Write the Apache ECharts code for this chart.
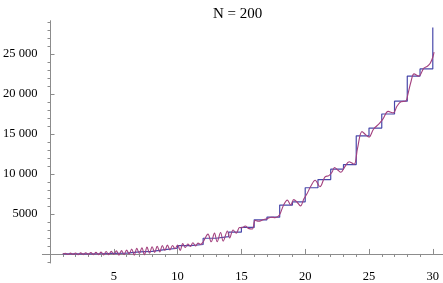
<!DOCTYPE html>
<html>
<head>
<meta charset="utf-8">
<script src="https://cdn.jsdelivr.net/npm/echarts@6/dist/echarts.min.js"></script>
<style>
  html, body { margin: 0; padding: 0; background: #fff; }
  #chart { width: 443px; height: 283px; }
</style>
</head>
<body>
<div id="chart"></div>
<script>
// step function: running totals at n = 1..30
var stepX = [1, 2, 3, 4, 5, 6, 7, 8, 9, 10, 11, 12, 13, 14, 15, 16, 17, 18, 19, 20, 21, 22, 23, 24, 25, 26, 27, 28, 29, 30];
var stepTotals = [1, 10, 26, 75, 111, 255, 319, 544, 713, 1037, 1181, 1965, 2161, 2737, 3313, 4274, 4598, 6119, 6519, 8283, 9307, 10603, 11179, 14779, 15740, 17504, 19104, 22240, 23140, 28324];

// wavy approximation
var curveX = [1, 1.2, 1.4, 1.6, 1.8, 2, 2.2, 2.4, 2.6, 2.8, 3, 3.2, 3.4, 3.6, 3.8, 4, 4.2, 4.4, 4.6, 4.8,
  5, 5.2, 5.4, 5.6, 5.8, 6, 6.2, 6.4, 6.6, 6.8, 7, 7.2, 7.4, 7.6, 7.8, 8, 8.2, 8.4, 8.6, 8.8,
  9, 9.2, 9.4, 9.6, 9.8, 10, 10.2, 10.4, 10.6, 10.8, 11, 11.2, 11.4, 11.6, 11.8,
  12, 12.38, 12.63, 12.89, 13.1, 13.37, 13.57, 13.9, 14.08, 14.35, 14.6, 14.85,
  15.05, 15.3, 15.55, 15.86, 16.07, 16.35, 16.7, 17, 17.34, 17.65, 17.98, 18.3, 18.6, 18.87, 19.1, 19.35,
  19.63, 19.9, 20.14, 20.45, 20.78, 21.16, 21.54, 21.85, 22.1, 22.3, 22.55, 22.8, 23.1, 23.45, 23.83,
  24.1, 24.45, 24.75, 25, 25.35, 25.8, 26.1, 26.5, 26.9, 27.2, 27.5, 27.9, 28.03, 28.3, 28.53, 28.9,
  29.3, 29.6, 29.8, 30, 30.1];
var curveY = [0, 80, -70, 100, -60, 120, -90, 140, -80, 150, -60, 180, -100, 200, -80, 230, -120, 300, -100, 320,
  -60, 380, -140, 420, -80, 480, 0, 620, -150, 700, 50, 780, -100, 850, 80, 900, 200, 950, 250, 1050,
  450, 1100, 500, 1050, 650, 1100, 450, 1300, 800, 1250, 950, 1400, 1000, 1350, 1200,
  1500, 2480, 1520, 2600, 1520, 2680, 1600, 2880, 2000, 3000, 2600, 3300,
  3280, 3500, 3200, 3130, 4200, 4100, 4280, 4400, 4600, 4550, 4880, 6100, 6730, 6130, 6800, 6500,
  6010, 6900, 7530, 8500, 9210, 8420, 9620, 9800, 10220, 10820, 10500, 10220, 10900, 11540, 11220,
  13200, 15300, 14900, 14620, 15600, 16300, 16900, 17830, 17640, 18500, 19030, 19150, 19840, 21600, 22520, 22240,
  23240, 23500, 23850, 24600, 25250];

var xMajorTicks = [5, 10, 15, 20, 25, 30];
var xTickLabels = ['5', '10', '15', '20', '25', '30'];
var xMinorTicks = [1, 2, 3, 4, 6, 7, 8, 9, 11, 12, 13, 14, 16, 17, 18, 19, 21, 22, 23, 24, 26, 27, 28, 29];
var yMajorTicks = [5000, 10000, 15000, 20000, 25000];
var yTickLabels = ['5000', '10 000', '15 000', '20 000', '25 000'];
var yMinorTicks = [-1000, 1000, 2000, 3000, 4000, 6000, 7000, 8000, 9000, 11000, 12000, 13000, 14000,
  16000, 17000, 18000, 19000, 21000, 22000, 23000, 24000, 26000, 27000, 28000, 29000];

var stepData = stepX.map(function (x, i) { return [x, stepTotals[i]]; });
var curveData = curveX.map(function (x, i) { return [x, curveY[i]]; });

var axisGrey = '#8c8c8c';
var fontFam = '"Liberation Serif", "DejaVu Serif", serif';
var xMin = -0.6, xMax = 30.8, yMin = -1130, yMax = 29170;

var chart = echarts.init(document.getElementById('chart'));
chart.setOption({
  animation: false,
  backgroundColor: '#fff',
  title: {
    text: 'N = 200',
    left: 208,
    top: 2,
    textStyle: { fontFamily: fontFam, fontSize: 15, fontWeight: 'normal', color: '#000' }
  },
  grid: { left: 31.7, right: 0, top: 20.7, bottom: 10.3 },
  xAxis: [{
    type: 'value', min: xMin, max: xMax,
    axisLine: { onZero: true, onZeroAxisIndex: 0, lineStyle: { color: axisGrey, width: 1 } },
    axisTick: { inside: true, length: 5, customValues: xMajorTicks, lineStyle: { color: axisGrey } },
    axisLabel: {
      customValues: xMajorTicks, margin: 7, color: '#000', fontFamily: fontFam, fontSize: 12.5,
      formatter: function (v) { return xTickLabels[xMajorTicks.indexOf(v)]; }
    },
    splitLine: { show: false }
  }, {
    type: 'value', min: xMin, max: xMax,
    axisLine: { show: false, onZero: true, onZeroAxisIndex: 0 },
    axisTick: { inside: true, length: 3, customValues: xMinorTicks, lineStyle: { color: axisGrey } },
    axisLabel: { show: false },
    splitLine: { show: false }
  }],
  yAxis: [{
    type: 'value', min: yMin, max: yMax,
    axisLine: { onZero: true, onZeroAxisIndex: 0, lineStyle: { color: axisGrey, width: 1 } },
    axisTick: { inside: true, length: 4.5, customValues: yMajorTicks, lineStyle: { color: axisGrey } },
    axisLabel: {
      customValues: yMajorTicks, margin: 5, color: '#000', fontFamily: fontFam, fontSize: 12.5,
      formatter: function (v) { return yTickLabels[yMajorTicks.indexOf(v)]; }
    },
    splitLine: { show: false }
  }, {
    type: 'value', min: yMin, max: yMax,
    axisLine: { show: false, onZero: true, onZeroAxisIndex: 0 },
    axisTick: { inside: true, length: 2.5, customValues: yMinorTicks, lineStyle: { color: axisGrey } },
    axisLabel: { show: false },
    splitLine: { show: false }
  }],
  series: [{
    type: 'line', data: stepData, step: 'end', showSymbol: false, symbol: 'none',
    lineStyle: { color: '#4848aa', width: 1.2 }, silent: true
  }, {
    type: 'line', data: curveData, smooth: 0.35, showSymbol: false, symbol: 'none',
    lineStyle: { color: '#a3407e', width: 1.1 }, silent: true
  }]
});
</script>
</body>
</html>
